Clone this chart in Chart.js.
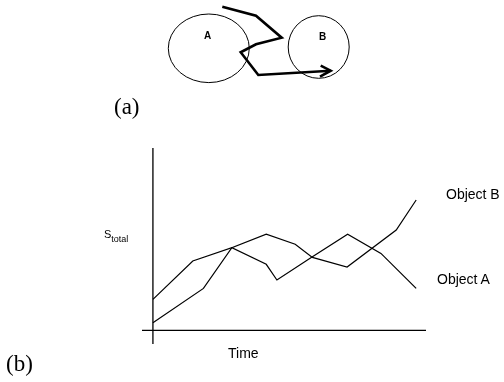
<!DOCTYPE html>
<html>
<head>
<meta charset="utf-8">
<script src="https://cdn.jsdelivr.net/npm/chart.js@4"></script>
<style>
  body { margin:0; background:#fff; }
  #wrap { position:relative; width:504px; height:382px; overflow:hidden; }
  canvas { position:absolute; left:0; top:0; }
  .lbl { position:absolute; white-space:nowrap; color:#000; line-height:1; }
  .sans { font-family:"Liberation Sans", Arial, sans-serif; }
  .serif { font-family:"Liberation Serif", "Times New Roman", serif; }
</style>
</head>
<body>
<div id="wrap">
  <canvas id="diagram" width="504" height="382"></canvas>
  <canvas id="chart" width="504" height="382"></canvas>
  <div class="lbl sans" style="left:204px;top:31px;font-size:10px;font-weight:bold">A</div>
  <div class="lbl sans" style="left:319px;top:32px;font-size:10px;font-weight:bold">B</div>
  <div class="lbl serif" style="left:114px;top:95px;font-size:23px">(a)</div>
  <div class="lbl serif" style="left:6px;top:352px;font-size:23px">(b)</div>
  <div class="lbl sans" style="left:104px;top:229px;font-size:11px">S<span style="font-size:9px;position:relative;top:4px">total</span></div>
  <div class="lbl sans" style="left:228px;top:346px;font-size:14px">Time</div>
  <div class="lbl sans" style="left:446px;top:187px;font-size:14px">Object B</div>
  <div class="lbl sans" style="left:437px;top:272px;font-size:14px">Object A</div>
</div>
<script>
// s_total over time for the two objects
const timeA = [0, 14.6, 28.9, 41.5, 45.4, 58.4, 71.3, 83.5, 96.4];
const sA    = [17.0, 38.0, 45.3, 36.2, 27.6, 40.4, 52.7, 42.2, 23.0];
const timeB = [0, 18.5, 28.9, 41.5, 52.1, 58.4, 71.1, 89.1, 96.4];
const sB    = [4.2, 23.0, 45.3, 52.7, 47.2, 40.0, 34.7, 55.0, 71.5];

// sketch (a): path between the two regions, and the regions themselves
const pathX  = [222.3, 256, 281.7, 256, 240.7, 258.3, 330.7];
const pathY  = [6.7, 15.7, 37.7, 44.3, 52.3, 75, 70.7];
const arrowX = [320.7, 330.7, 320];
const arrowY = [65.7, 70.7, 76.7];
const regionCx = [208.8, 318.7];
const regionCy = [48.3, 47];
const regionRx = [40.5, 30.5];
const regionRy = [34.3, 31.3];

const pts = (xs, ys) => xs.map((x, i) => ({x: x, y: ys[i]}));

const crossAxes = {
  id: 'crossAxes',
  beforeDatasetsDraw(chart) {
    const {ctx, chartArea, scales: {x, y}} = chart;
    const x0 = x.getPixelForValue(0), y0 = y.getPixelForValue(0);
    ctx.save();
    ctx.strokeStyle = '#000';
    ctx.lineWidth = 1.3;
    ctx.beginPath();
    ctx.moveTo(chartArea.left, y0);
    ctx.lineTo(chartArea.right, y0);
    ctx.moveTo(x0, chartArea.top);
    ctx.lineTo(x0, chartArea.bottom);
    ctx.stroke();
    ctx.restore();
  }
};

new Chart(document.getElementById('chart'), {
  type: 'line',
  data: {
    datasets: [
      { label: 'Object A', data: pts(timeA, sA), borderColor: '#000', borderWidth: 1.2, pointRadius: 0, tension: 0 },
      { label: 'Object B', data: pts(timeB, sB), borderColor: '#000', borderWidth: 1.2, pointRadius: 0, tension: 0 }
    ]
  },
  options: {
    responsive: false,
    animation: false,
    layout: { padding: { left: 142, right: 78, top: 148, bottom: 38 } },
    plugins: { legend: { display: false }, tooltip: { enabled: false } },
    scales: {
      x: { type: 'linear', min: -4, max: 100, display: false },
      y: { type: 'linear', min: -7.5, max: 100, display: false }
    }
  },
  plugins: [crossAxes]
});

const regions = {
  id: 'regions',
  afterDatasetsDraw(chart) {
    const {ctx, scales: {x, y}} = chart;
    ctx.save();
    ctx.strokeStyle = '#000';
    ctx.lineWidth = 1;
    regionCx.forEach((cx, i) => {
      const px = x.getPixelForValue(cx), py = y.getPixelForValue(regionCy[i]);
      const rx = Math.abs(x.getPixelForValue(cx + regionRx[i]) - px);
      const ry = Math.abs(y.getPixelForValue(regionCy[i] + regionRy[i]) - py);
      ctx.beginPath();
      ctx.ellipse(px, py, rx, ry, 0, 0, Math.PI * 2);
      ctx.stroke();
    });
    ctx.restore();
  }
};

new Chart(document.getElementById('diagram'), {
  type: 'line',
  data: {
    datasets: [
      { data: pts(pathX, pathY), borderColor: '#000', borderWidth: 2.6, pointRadius: 0, tension: 0, borderJoinStyle: 'miter' },
      { data: pts(arrowX, arrowY), borderColor: '#000', borderWidth: 2.6, pointRadius: 0, tension: 0, borderJoinStyle: 'miter' }
    ]
  },
  options: {
    responsive: false,
    animation: false,
    layout: { padding: 0 },
    plugins: { legend: { display: false }, tooltip: { enabled: false } },
    scales: {
      x: { type: 'linear', min: 0, max: 504, display: false },
      y: { type: 'linear', min: 0, max: 382, reverse: true, display: false }
    }
  },
  plugins: [regions]
});
</script>
</body>
</html>
